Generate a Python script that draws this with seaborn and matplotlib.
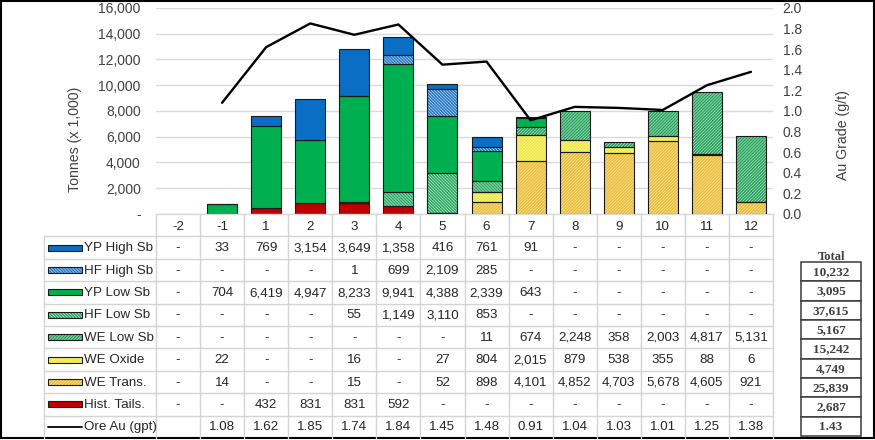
import numpy as np
import pandas as pd
import matplotlib
matplotlib.use("Agg")
import matplotlib.pyplot as plt
import seaborn as sns
from matplotlib import font_manager as fm
from matplotlib import transforms as mtrans
from matplotlib.patches import Rectangle
from matplotlib.lines import Line2D
from matplotlib.ticker import FuncFormatter, MultipleLocator

# ---------------- data ----------------
periods = ["-2", "-1", "1", "2", "3", "4", "5", "6", "7", "8", "9", "10", "11", "12"]
yp_high = [None, 33, 769, 3154, 3649, 1358, 416, 761, 91, None, None, None, None, None]
hf_high = [None, None, None, None, 1, 699, 2109, 285, None, None, None, None, None, None]
yp_low = [None, 704, 6419, 4947, 8233, 9941, 4388, 2339, 643, None, None, None, None, None]
hf_low = [None, None, None, None, 55, 1149, 3110, 853, None, None, None, None, None, None]
we_low = [None, None, None, None, None, None, None, 11, 674, 2248, 358, 2003, 4817, 5131]
we_oxide = [None, 22, None, None, 16, None, 27, 804, 2015, 879, 538, 355, 88, 6]
we_trans = [None, 14, None, None, 15, None, 52, 898, 4101, 4852, 4703, 5678, 4605, 921]
hist_tails = [None, None, 432, 831, 831, 592, None, None, None, None, None, None, None, None]
ore_au = [None, 1.08, 1.62, 1.85, 1.74, 1.84, 1.45, 1.48, 0.91, 1.04, 1.03, 1.01, 1.25, 1.38]
row_names = ["YP High Sb", "HF High Sb", "YP Low Sb", "HF Low Sb", "WE Low Sb",
             "WE Oxide", "WE Trans.", "Hist. Tails.", "Ore Au (gpt)"]
totals = [10232, 3095, 37615, 5167, 15242, 4749, 25839, 2687, 1.43]

# ---------------- styles ----------------
HN = 11
styles = {
    "YP High Sb": dict(face="#0A6EC4", hatch=None, hcol=None),
    "HF High Sb": dict(face="#F2F8FD", hatch="\\" * HN, hcol="#2A7AC6"),
    "YP Low Sb": dict(face="#00AF50", hatch=None, hcol=None),
    "HF Low Sb": dict(face="#EEF9F2", hatch="\\" * HN, hcol="#2FAA66"),
    "WE Low Sb": dict(face="#EEF9F2", hatch="/" * HN, hcol="#27A45E"),
    "WE Oxide": dict(face="#FFFFC8", hatch="/" * HN, hcol="#EEE640"),
    "WE Trans.": dict(face="#FFF4C8", hatch="/" * HN, hcol="#EABD3C"),
    "Hist. Tails.": dict(face="#C00000", hatch=None, hcol=None),
}
series = dict(zip(row_names[:-1], [yp_high, hf_high, yp_low, hf_low, we_low,
                                   we_oxide, we_trans, hist_tails]))
stack_order = ["Hist. Tails.", "WE Trans.", "WE Oxide", "WE Low Sb", "HF Low Sb",
               "YP Low Sb", "HF High Sb", "YP High Sb"]

# ---------------- fonts ----------------
sns.set_theme(style="white")
names = {f.name for f in fm.fontManager.ttflist}
BASE = "Liberation Sans" if "Liberation Sans" in names else "DejaVu Sans"
if "Liberation Sans Narrow" in names:
    TFONT, TSIZE = "Liberation Sans Narrow", 10.8
else:
    TFONT, TSIZE = BASE, 9.6
SERIF = "Liberation Serif" if "Liberation Serif" in names else "DejaVu Serif"
plt.rcParams["font.family"] = [BASE, "DejaVu Sans"]
plt.rcParams["hatch.linewidth"] = 1.2

W, H = 875, 440
fig = plt.figure(figsize=(W / 100, H / 100), dpi=100)
fig.patch.set_facecolor("white")

L, R, T, B = 156, 773, 8, 214
ax = fig.add_axes([L / W, 1 - B / H, (R - L) / W, (B - T) / H])

BW = 0.68
bottom = np.zeros(len(periods))
for name in stack_order:
    vals = np.array([0 if v is None else v for v in series[name]], dtype=float)
    df = pd.DataFrame({"period": periods, "value": vals})
    st = styles[name]
    if st["hatch"] is None:
        sns.barplot(data=df, x="period", y="value", order=periods, color=st["face"],
                    edgecolor="#1a1a1a", linewidth=0.8, bottom=bottom.copy(), width=BW,
                    errorbar=None, ax=ax, zorder=2, saturation=1)
    else:
        sns.barplot(data=df, x="period", y="value", order=periods, color=st["face"],
                    hatch=st["hatch"], edgecolor=st["hcol"], linewidth=0,
                    bottom=bottom.copy(), width=BW, errorbar=None, ax=ax, zorder=2,
                    saturation=1)
        sns.barplot(data=df, x="period", y="value", order=periods, color="black",
                    facecolor="none", edgecolor="#1a1a1a", linewidth=0.8,
                    bottom=bottom.copy(), width=BW, errorbar=None, ax=ax, zorder=3)
    bottom += vals

# empty segments should not leave an outline
for p in ax.patches:
    if p.get_height() == 0:
        p.set_visible(False)

ax.set_xlabel("")
ax.set_ylabel("")
ax.set_xlim(-0.5, len(periods) - 0.5)
ax.set_ylim(0, 16000)
ax.yaxis.set_major_locator(MultipleLocator(2000))
ax.yaxis.set_major_formatter(FuncFormatter(lambda v, p: "-" if v == 0 else f"{v:,.0f}"))
ax.yaxis.grid(True, color="#D9D9D9", lw=1)
ax.xaxis.grid(False)
ax.set_axisbelow(True)
for s in ["left", "right", "top"]:
    ax.spines[s].set_visible(False)
ax.spines["bottom"].set_color("#D9D9D9")
ax.spines["bottom"].set_linewidth(1)
ax.tick_params(axis="y", length=0, pad=11, labelsize=10, labelcolor="#404040")
ax.tick_params(axis="x", length=0, pad=5, labelsize=TSIZE, labelcolor="#262626")
for lab in ax.get_xticklabels():
    lab.set_fontfamily(TFONT)
ax.patch.set_alpha(0)

ax2 = ax.twinx()
au = np.array([np.nan if v is None else v for v in ore_au], dtype=float)
sns.lineplot(x=np.arange(len(periods)), y=au, ax=ax2, color="black", lw=1.7,
             errorbar=None, sort=False)
ax2.set_xlim(-0.5, len(periods) - 0.5)
ax2.set_ylim(0, 2.0)
ax2.yaxis.set_major_locator(MultipleLocator(0.2))
ax2.yaxis.set_major_formatter(FuncFormatter(lambda v, p: f"{v:.1f}"))
ax2.set_ylabel("")
for s in ax2.spines.values():
    s.set_visible(False)
ax2.tick_params(axis="y", length=0, pad=7, labelsize=10, labelcolor="#404040")
ax2.grid(False)

fig.text(75 / W, 1 - 139 / H, "Tonnes (x 1,000)", rotation=90, ha="center",
         va="center", fontsize=10.2, color="#404040")
fig.text(843 / W, 1 - 135 / H, "Au Grade (g/t)", rotation=90, ha="center",
         va="center", fontsize=10.2, color="#404040")

# ---------------- data table ----------------
ov = fig.add_axes([0, 0, 1, 1], zorder=5)
ov.set_xlim(0, W)
ov.set_ylim(H, 0)
ov.axis("off")
blend = mtrans.blended_transform_factory(ax.transData, ov.transData)

GC = "#D4D4D4"
TX0 = 44
ROW0 = 236.5
RH = 22.4
nrows = len(row_names)
ybot = ROW0 + nrows * RH
for k in range(nrows):
    y = ROW0 + k * RH
    ov.add_line(Line2D([TX0, R], [y, y], color=GC, lw=1))
ov.add_line(Line2D([TX0, TX0], [ROW0, ybot], color=GC, lw=1))
for j in range(len(periods) + 1):
    xe = j - 0.5
    ov.add_line(Line2D([xe, xe], [B, ybot], color=GC, lw=1, transform=blend))

all_rows = [series[n] for n in row_names[:-1]] + [ore_au]
for i, name in enumerate(row_names):
    yc = ROW0 + (i + 0.5) * RH
    # swatch
    if name == "Ore Au (gpt)":
        ov.add_line(Line2D([48, 82], [yc, yc], color="black", lw=1.3))
    else:
        st = styles[name]
        if st["hatch"] is None:
            ov.add_patch(Rectangle((48, yc - 3), 34, 6, facecolor=st["face"],
                                   edgecolor="#1a1a1a", lw=0.8))
        else:
            ov.add_patch(Rectangle((48, yc - 3), 34, 6, facecolor=st["face"],
                                   edgecolor=st["hcol"], hatch=st["hatch"], lw=0))
            ov.add_patch(Rectangle((48, yc - 3), 34, 6, facecolor="none",
                                   edgecolor="#1a1a1a", lw=0.8))
    ov.text(84, yc + 0.5, name, ha="left", va="center", fontsize=TSIZE,
            family=TFONT, color="#262626")
    for j, v in enumerate(all_rows[i]):
        if name == "Ore Au (gpt)":
            s = "" if v is None else f"{v:.2f}"
        else:
            s = "-" if v is None else f"{v:,}"
        ov.text(j, yc + 0.5, s, ha="center", va="center", fontsize=TSIZE,
                family=TFONT, color="#262626", transform=blend)

# ---------------- totals box ----------------
BX0, BX1 = 801, 861
BY0, BH = 262, 19.33
ov.text((BX0 + BX1) / 2, 256.5, "Total", ha="center", va="center", fontsize=9,
        family=SERIF, weight="bold", color="#404040")
for i, v in enumerate(totals):
    y0 = BY0 + i * BH
    ov.add_patch(Rectangle((BX0, y0), BX1 - BX0, BH, facecolor="white",
                           edgecolor="#3a3a3a", lw=1.1))
    s = f"{v:.2f}" if isinstance(v, float) else f"{v:,}"
    ov.text((BX0 + BX1) / 2, y0 + BH / 2 + 0.5, s, ha="center", va="center",
            fontsize=9.5, family=SERIF, weight="bold", color="#404040")

# figure frame
ov.add_patch(Rectangle((0.8, 0.8), W - 2.2, 437.4, facecolor="none",
                       edgecolor="black", lw=1.5))

fig.savefig("out.png", dpi=100, facecolor="white")
